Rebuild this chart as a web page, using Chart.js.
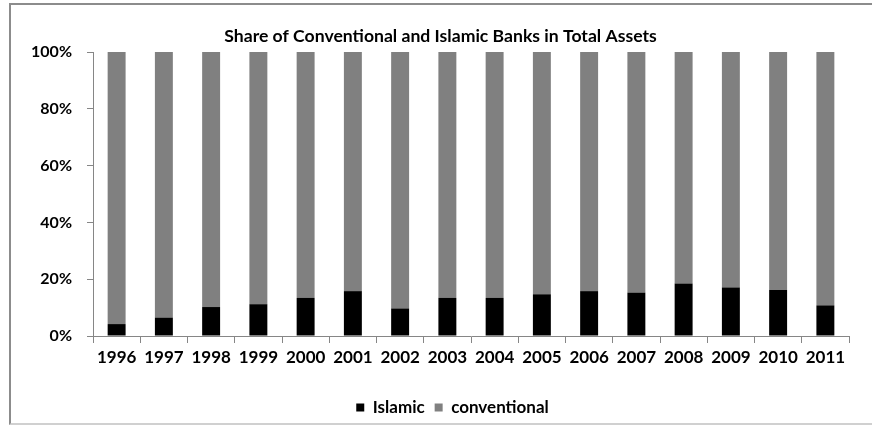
<!DOCTYPE html>
<html>
<head>
<meta charset="utf-8">
<script src="https://cdn.jsdelivr.net/npm/chart.js@4/dist/chart.umd.min.js"></script>
<style>
  html, body { margin: 0; padding: 0; background: #fff; }
  #wrap { position: relative; width: 872px; height: 426px; overflow: hidden; }
  #frame { position: absolute; left: 9px; top: 3px; width: 900px; height: 422px;
           border: 2px solid #8c8c8c; border-bottom-color: #d0d0d0; box-sizing: border-box; }
  canvas { position: absolute; left: 0; top: 0; }
</style>
</head>
<body>
<div id="wrap">
  <div id="frame"></div>
  <canvas id="c" width="872" height="426"></canvas>
</div>
<script>
// Years on the category axis
const years = ['1996','1997','1998','1999','2000','2001','2002','2003',
               '2004','2005','2006','2007','2008','2009','2010','2011'];
// Islamic banks' share of total assets (%)
const islamic = [4.2, 6.5, 10.2, 11.2, 13.4, 15.8, 9.7, 13.4,
                 13.4, 14.7, 15.8, 15.3, 18.5, 17.1, 16.2, 10.8];
// Conventional banks' share of total assets (%)
const conventional = [95.8, 93.5, 89.8, 88.8, 86.6, 84.2, 90.3, 86.6,
                      86.6, 85.3, 84.2, 84.7, 81.5, 82.9, 83.8, 89.2];
// Percent ticks on the value axis
const yTicks = [0, 20, 40, 60, 80, 100];

const FONT = 'Lato, "Open Sans", sans-serif';
const AXIS = '#868686';

// Nudge the title and legend blocks sideways so they sit over the plot
const blockShift = {
  id: 'blockShift',
  afterLayout(chart) {
    const t = chart.titleBlock, l = chart.legend;
    if (t) { t.left += 16; t.right += 16; }
    if (l) { l.left += 28; l.right += 28; }
  }
};

new Chart(document.getElementById('c'), {
  type: 'bar',
  data: {
    labels: years,
    datasets: [
      { label: 'Islamic', data: islamic, backgroundColor: '#000000',
        barPercentage: 0.38, categoryPercentage: 1.0 },
      { label: 'conventional', data: conventional, backgroundColor: '#808080',
        barPercentage: 0.38, categoryPercentage: 1.0 }
    ]
  },
  options: {
    responsive: false,
    animation: false,
    layout: { padding: { left: 0, right: 23, top: 25.5, bottom: 0 } },
    plugins: {
      tooltip: { enabled: false },
      title: {
        display: true,
        text: 'Share of Conventional and Islamic Banks in Total Assets',
        color: '#000',
        font: { family: FONT, size: 17.6, weight: 'bold' },
        padding: { top: 0, bottom: 5.4 }
      },
      legend: {
        position: 'bottom',
        labels: {
          color: '#000',
          font: { family: FONT, size: 17, weight: 'bold' },
          boxWidth: 8, boxHeight: 8, padding: 10
        }
      }
    },
    scales: {
      x: {
        stacked: true,
        grid: { display: true, drawOnChartArea: false, offset: true,
                color: AXIS, tickLength: 7 },
        border: { display: true, color: AXIS, width: 1 },
        ticks: { color: '#000', padding: 4, maxRotation: 0, autoSkip: false,
                 font: { family: FONT, size: 17, weight: 'bold' } },
        afterFit: s => { s.height = 53; }
      },
      y: {
        stacked: true,
        min: 0, max: 100,
        afterBuildTicks: s => { s.ticks = yTicks.map(v => ({ value: v })); },
        grid: { display: true, drawOnChartArea: false, color: AXIS, tickLength: 6 },
        border: { display: true, color: AXIS, width: 1 },
        ticks: { color: '#000', padding: 15,
                 font: { family: FONT, size: 16, weight: 'bold' },
                 callback: v => v + '%' },
        afterFit: s => { s.width = 93; }
      }
    }
  },
  plugins: [blockShift]
});
</script>
</body>
</html>
